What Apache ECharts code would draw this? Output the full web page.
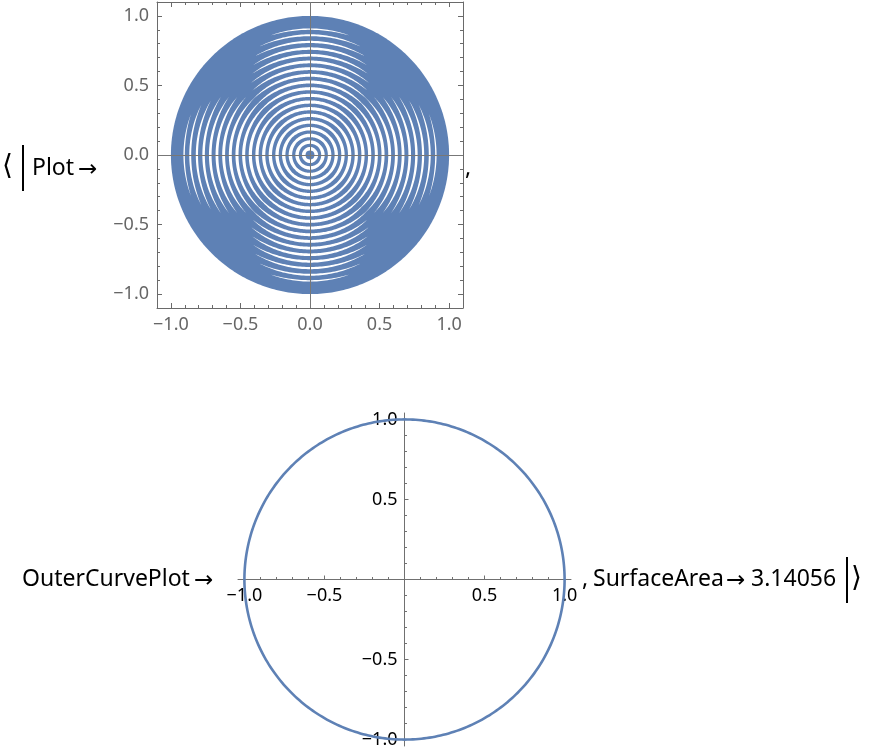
<!DOCTYPE html>
<html>
<head>
<meta charset="utf-8">
<script src="https://cdn.jsdelivr.net/npm/echarts@6/dist/echarts.min.js"></script>
<style>
  html, body { margin: 0; padding: 0; background: #fff; }
  #chart { width: 872px; height: 754px; }
</style>
</head>
<body>
<div id="chart"></div>
<script>
// ---- data ----
const majorTicks = [-1, -0.5, 0, 0.5, 1];
const minorTicks = [-0.9, -0.8, -0.7, -0.6, -0.4, -0.3, -0.2, -0.1, 0.1, 0.2, 0.3, 0.4, 0.6, 0.7, 0.8, 0.9];
const outerLabels = [-1, -0.5, 0.5, 1];

// Plot: filled disk with white ring gaps (moiré pattern)
const diskRadius = 1.0;
const ringRadii = [0.045, 0.093, 0.141, 0.189, 0.237, 0.285, 0.333, 0.381, 0.429, 0.477, 0.525, 0.573, 0.621, 0.669, 0.717, 0.765, 0.813, 0.861, 0.905];
const ringGapWidths = [0.026, 0.025, 0.025, 0.024, 0.024, 0.024, 0.023, 0.023, 0.023, 0.022, 0.022, 0.021, 0.021, 0.020, 0.019, 0.018, 0.016, 0.014, 0.010];
const ringSpans = [120, 110, 100, 90, 82, 76, 70, 64, 58, 54, 50, 46, 42, 39, 36, 33, 29, 25, 19];

// OuterCurvePlot: unit circle
const outerCurveRadius = 1.0;
const surfaceArea = '3.14056';

// ---- rendering ----
const BLUE = '#5E81B5';
const FONT = '"Noto Sans", "DejaVu Sans", sans-serif';
const fmt = v => v.toFixed(1).replace('-', '\u2212');

function ringPoints(api, r, w, span) {
  const outer = [], inner = [];
  for (let a = 0; a <= 360; a += 1) {
    const rad = a * Math.PI / 180;
    const d = Math.abs(((a + 45) % 90) - 45);
    const f = Math.max(0, 1 - Math.pow(d / span, 2));
    const hw = w / 2 * f;
    outer.push(api.coord([(r + hw) * Math.cos(rad), (r + hw) * Math.sin(rad)]));
    inner.push(api.coord([(r - hw) * Math.cos(rad), (r - hw) * Math.sin(rad)]));
  }
  return outer.concat(inner.reverse());
}
function circlePoints(api, r) {
  const pts = [];
  for (let a = 0; a <= 360; a += 1) {
    const rad = a * Math.PI / 180;
    pts.push(api.coord([r * Math.cos(rad), r * Math.sin(rad)]));
  }
  return pts;
}

const FRAME = '#6a6a6a';
function frameAxis(pos, major, showLabel) {
  return {
    type: 'value', gridIndex: 0, position: pos, min: -1.1, max: 1.1,
    axisLine: { show: major, onZero: false, lineStyle: { color: FRAME, width: 1 } },
    axisTick: { show: true, inside: true, length: major ? 5 : 3, customValues: major ? majorTicks : minorTicks,
                lineStyle: { color: FRAME, width: 1 } },
    axisLabel: { show: showLabel, customValues: majorTicks, formatter: fmt, color: '#666',
                 fontSize: 18, fontFamily: FONT, margin: 8 },
    splitLine: { show: false }
  };
}
// bottom plot: axes crossing at the origin (grid is symmetric, so the origin is at half size)
const G2 = { left: 238, top: 413, size: 333 };
const AX2 = '#707070';
function originAxis(pos, major) {
  return {
    type: 'value', gridIndex: 1, position: pos, min: -1.04, max: 1.04,
    offset: -G2.size / 2,
    axisLine: { show: major, onZero: false, lineStyle: { color: AX2, width: 1 } },
    axisTick: { show: true, inside: true, length: major ? 4 : 2.5, customValues: major ? majorTicks : minorTicks,
                lineStyle: { color: AX2, width: 1 } },
    axisLabel: { show: major, customValues: outerLabels, formatter: fmt, color: '#000',
                 fontSize: 18, fontFamily: FONT, margin: 7 },
    splitLine: { show: false }
  };
}

const ringData = ringRadii.map((r, i) => [r, ringGapWidths[i], ringSpans[i]]);

const option = {
  animation: false,
  backgroundColor: '#fff',
  grid: [
    { left: 157, top: 2, width: 306, height: 306, outerBoundsMode: 'none' },
    { left: G2.left, top: G2.top, width: G2.size, height: G2.size, outerBoundsMode: 'none' }
  ],
  xAxis: [
    frameAxis('bottom', true, true),
    frameAxis('bottom', false, false),
    frameAxis('top', true, false),
    frameAxis('top', false, false),
    originAxis('bottom', true),
    originAxis('bottom', false)
  ],
  yAxis: [
    frameAxis('left', true, true),
    frameAxis('left', false, false),
    frameAxis('right', true, false),
    frameAxis('right', false, false),
    originAxis('left', true),
    originAxis('left', false)
  ],
  series: [
    {
      type: 'custom', xAxisIndex: 0, yAxisIndex: 0, clip: false, silent: true, z: 2,
      data: [[diskRadius]],
      encode: { x: [], y: [] },
      renderItem: (params, api) => ({
        type: 'polygon', shape: { points: circlePoints(api, api.value(0)) },
        style: { fill: BLUE, stroke: null }
      })
    },
    {
      type: 'custom', xAxisIndex: 0, yAxisIndex: 0, clip: false, silent: true, z: 3,
      data: ringData,
      encode: { x: [], y: [] },
      renderItem: (params, api) => ({
        type: 'polygon',
        shape: { points: ringPoints(api, api.value(0), api.value(1), api.value(2)) },
        style: { fill: '#fff', stroke: null }
      }),
      markLine: {
        silent: true, symbol: 'none', label: { show: false },
        lineStyle: { color: '#777', width: 1, type: 'solid' },
        data: [{ xAxis: 0 }, { yAxis: 0 }]
      }
    },
    {
      type: 'custom', xAxisIndex: 4, yAxisIndex: 4, clip: false, silent: true, z: 3,
      data: [[outerCurveRadius]],
      encode: { x: [], y: [] },
      renderItem: (params, api) => ({
        type: 'polyline', shape: { points: circlePoints(api, api.value(0)) },
        style: { fill: null, stroke: BLUE, lineWidth: 2.6 }
      })
    }
  ],
  graphic: [
    { type: 'text', style: { text: '\u27E8', x: 2, y: 166, fill: '#000', font: '28px ' + FONT, verticalAlign: 'middle' } },
    { type: 'line', shape: { x1: 23, y1: 145, x2: 23, y2: 191 }, style: { stroke: '#000', lineWidth: 2 } },
    { type: 'text', style: { text: 'Plot', x: 32, y: 168, fill: '#000', font: '23px ' + FONT, verticalAlign: 'middle' } },
    { type: 'text', style: { text: '\u2192', x: 78, y: 169, fill: '#000', font: '23px ' + FONT, verticalAlign: 'middle' } },
    { type: 'text', style: { text: ',', x: 465, y: 168, fill: '#000', font: '23px ' + FONT, verticalAlign: 'middle' } },

    { type: 'text', style: { text: 'OuterCurvePlot', x: 22, y: 579, fill: '#000', font: '23px ' + FONT, verticalAlign: 'middle' } },
    { type: 'text', style: { text: '\u2192', x: 194, y: 580, fill: '#000', font: '23px ' + FONT, verticalAlign: 'middle' } },
    { type: 'text', style: { text: ',', x: 582, y: 579, fill: '#000', font: '23px ' + FONT, verticalAlign: 'middle' } },
    { type: 'text', style: { text: 'SurfaceArea', x: 593, y: 579, fill: '#000', font: '23px ' + FONT, verticalAlign: 'middle' } },
    { type: 'text', style: { text: '\u2192', x: 726, y: 580, fill: '#000', font: '23px ' + FONT, verticalAlign: 'middle' } },
    { type: 'text', style: { text: surfaceArea, x: 751, y: 579, fill: '#000', font: '23px ' + FONT, verticalAlign: 'middle' } },
    { type: 'line', shape: { x1: 847, y1: 557, x2: 847, y2: 603 }, style: { stroke: '#000', lineWidth: 2 } },
    { type: 'text', style: { text: '\u27E9', x: 851, y: 578, fill: '#000', font: '28px ' + FONT, verticalAlign: 'middle' } }
  ]
};

const chart = echarts.init(document.getElementById('chart'), null, { renderer: 'canvas' });
chart.setOption(option);
</script>
</body>
</html>
